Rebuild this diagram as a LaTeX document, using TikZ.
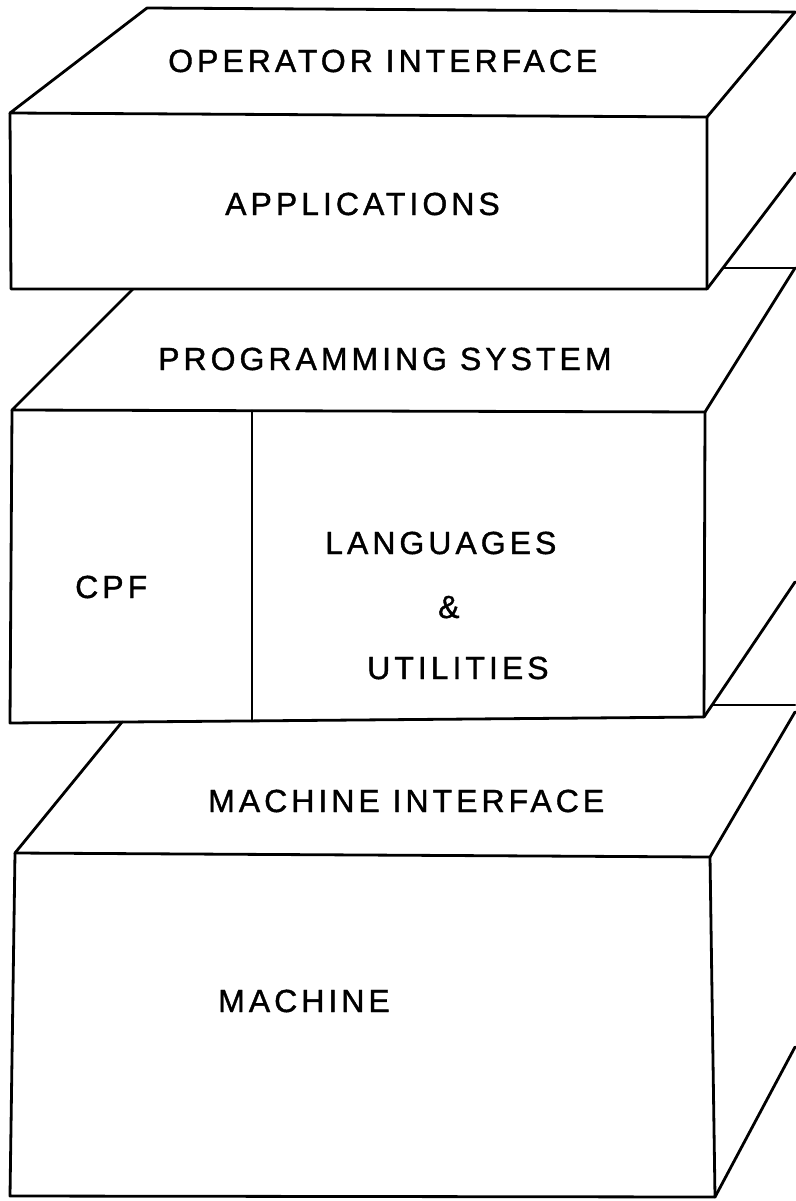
\documentclass[tikz,border=0pt]{standalone}
\usepackage{fontspec}
\setmainfont{Liberation Sans}[LetterSpace=12.5,FakeBold=1.2]
\begin{document}
\begin{tikzpicture}[x=1pt,y=-1pt,
  edge/.style={line width=2.8pt, line cap=round, line join=round},
  lbl/.style={anchor=base west, inner sep=0pt, font=\fontsize{32}{36}\selectfont}]
\useasboundingbox (0,0) rectangle (795,1201);
% ---- box 1 ----
\coordinate (a1) at (147,8);
\coordinate (a2) at (795,12);
\coordinate (a3) at (10,113);
\coordinate (a4) at (707,117);
\coordinate (a5) at (11,289);
\coordinate (a6) at (707,289);
\coordinate (a7) at (795,173);
\draw[edge] (a2) -- (a1) -- (a3) -- (a4) -- (a2);
\draw[edge] (a3) -- (a5) -- (a6) -- (a4);
\draw[edge] (a6) -- (a7);
% ---- box 2 ----
\coordinate (b1) at (133,289);
\coordinate (b2a) at (723,268);
\coordinate (b2) at (795,268);
\coordinate (b3) at (12,410);
\coordinate (b4) at (705,412);
\coordinate (b5) at (10,723);
\coordinate (b6) at (704,717);
\coordinate (b7) at (795,582);
\coordinate (d1) at (252,411);
\coordinate (d2) at (252,721);
\draw[edge] (b2a) -- (b2);
\draw[edge] (b1) -- (b3) -- (b4) -- (b2);
\draw[edge] (b3) -- (b5) -- (b6) -- (b4);
\draw[edge] (b6) -- (b7);
\draw[edge] (d1) -- (d2);
% ---- box 3 ----
\coordinate (c1) at (122,722);
\coordinate (c2a) at (712,705);
\coordinate (c2) at (795,705);
\coordinate (c3) at (15,853);
\coordinate (c4) at (710,857);
\coordinate (c8) at (795,712);
\coordinate (c5) at (10,1196);
\coordinate (c6) at (715,1197);
\coordinate (c7) at (795,1047);
\draw[edge] (c2a) -- (c2);
\draw[edge] (c1) -- (c3) -- (c4) -- (c8);
\draw[edge] (c3) -- (c5) -- (c6) -- (c4);
\draw[edge] (c6) -- (c7);
% ---- labels ----
\node[lbl] (t1) at (168,72) {OPERATOR INTERFACE};
\node[lbl] (t2) at (225,215) {APPLICATIONS};
\node[lbl] (t3) at (158,370) {PROGRAMMING SYSTEM};
\node[lbl] (t4) at (75,598) {CPF};
\node[lbl] (t5) at (325,554) {LANGUAGES};
\node[lbl] (t6) at (438,618) {\&};
\node[lbl] (t7) at (367,679) {UTILITIES};
\node[lbl] (t8) at (208,812) {MACHINE INTERFACE};
\node[lbl] (t9) at (218,1012) {MACHINE};
\end{tikzpicture}
\end{document}
